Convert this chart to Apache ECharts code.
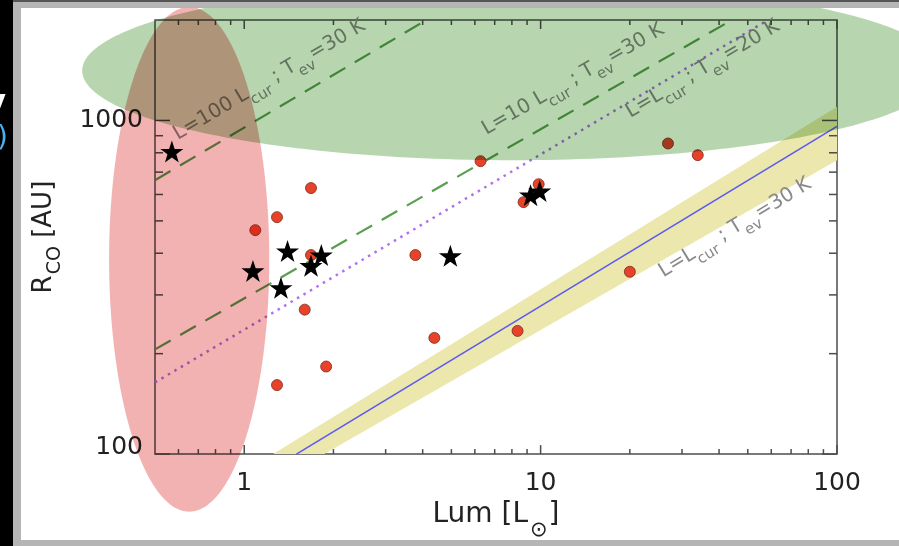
<!DOCTYPE html>
<html>
<head>
<meta charset="utf-8">
<script src="https://cdn.jsdelivr.net/npm/echarts@6/dist/echarts.min.js"></script>
<style>
  html, body { margin: 0; padding: 0; background: #fff; }
  #chart { width: 899px; height: 546px; }
</style>
</head>
<body>
<div id="chart"></div>
<script>
// Axis ranges: luminosity [L_sun] and CO snow-line radius [AU]
const lumRange = [0.5, 100];
const rcoRange = [100, 2000];
const lumLabels = [1, 10, 100];
const rcoLabels = [100, 1000];
const lumMajorTicks = [1, 10, 100];
const lumMinorTicks = [0.6, 0.7, 0.8, 0.9, 2, 3, 4, 5, 6, 7, 8, 9, 20, 30, 40, 50, 60, 70, 80, 90];
const rcoMajorTicks = [100, 1000];
const rcoMinorTicks = [200, 300, 400, 500, 600, 700, 800, 900];

// Sources drawn as stars
const starLum = [0.57, 1.07, 1.40, 1.33, 1.68, 1.82, 4.96, 9.25, 9.93];
const starRco = [807, 354, 406, 315, 367, 395, 393, 597, 614];

// Sources drawn as red circles
const dotLum = [1.09, 1.29, 1.68, 6.27, 9.85, 8.76, 1.68, 3.78, 1.60, 4.38, 8.36, 1.89, 1.29, 26.9, 33.9, 20.0];
const dotRco = [469, 513, 627, 755, 644, 569, 395, 395, 271, 223, 234, 183, 161, 853, 787, 352];

// Model relations R_CO(L), end points on the frame
const rel100x30K = [[0.5, 662], [4.12, 2000]];
const rel10x30K = [[0.5, 206], [44.2, 2000]];
const rel1x20K = [[0.5, 164], [58.5, 2000]];
const rel1x30K = [[1.5, 100], [100, 960]];
// Spread around the L = Lcur, Tev = 30 K relation
const band30KUpper = [[1.25, 100], [100, 1100]];
const band30KLower = [[1.86, 100], [100, 760]];

// Relation labels: baseline start point (L, R), text
const labelAnchors = [[0.603, 859], [6.62, 889], [20.3, 1000], [26.2, 333]];
const labelTexts = [
  '{m|L=100 L}{s|cur}{m| ; T}{s|ev}{m|=30 K}',
  '{m|L=10 L}{s|cur}{m| ; T}{s|ev}{m|=30 K}',
  '{m|L=L}{s|cur}{m| ; T}{s|ev}{m|=20 K}',
  '{m|L=L}{s|cur}{m| ; T}{s|ev}{m|=30 K}'
];
const labelRelations = [rel100x30K, rel10x30K, rel1x20K, rel1x30K];

// Highlighted regions: [Lmin, Lmax, Rmin, Rmax] bounding boxes of the ellipses
const regionBoxes = [
  [0.35, 1.215, 67.2, 2188],
  [0.284, 228, 760, 2618]
];
const regionColors = ['#f3b2b2', '#b7d6af'];

const FONT = 'DejaVu Sans';
const STAR = 'path://M50,0 L61.8,35.1 L98.9,35.1 L68.8,57.4 L79.4,91.6 L50,70.5 L20.6,91.6 L31.2,57.4 L1.1,35.1 L38.2,35.1 Z';

function isListed(list, v) {
  return list.find(t => Math.abs(t - v) / t < 1e-6);
}

function tickSeries(values, axis, len) {
  const data = values.map(v => axis === 'x' ? [v, rcoRange[0]] : [lumRange[0], v]);
  return {
    type: 'custom', coordinateSystem: 'cartesian2d', silent: true, clip: false, z: 4,
    data: data,
    renderItem: function (params, api) {
      const st = { stroke: '#4d4d4d', lineWidth: 1.5 };
      if (axis === 'x') {
        const v = api.value(0);
        const b = api.coord([v, rcoRange[0]]);
        const t = api.coord([v, rcoRange[1]]);
        return { type: 'group', children: [
          { type: 'line', shape: { x1: b[0], y1: b[1], x2: b[0], y2: b[1] - len }, style: st },
          { type: 'line', shape: { x1: t[0], y1: t[1], x2: t[0], y2: t[1] + len }, style: st }
        ] };
      }
      const v = api.value(1);
      const l = api.coord([lumRange[0], v]);
      const r = api.coord([lumRange[1], v]);
      return { type: 'group', children: [
        { type: 'line', shape: { x1: l[0], y1: l[1], x2: l[0] + len, y2: l[1] }, style: st },
        { type: 'line', shape: { x1: r[0], y1: r[1], x2: r[0] - len, y2: r[1] }, style: st }
      ] };
    }
  };
}

function relationSeries(points, color, dash, width) {
  return {
    type: 'line', data: points, symbol: 'none', silent: true, z: 2,
    lineStyle: { color: color, width: width, type: dash }
  };
}

const chart = echarts.init(document.getElementById('chart'), null, { renderer: 'canvas' });

const option = {
  animation: false,
  backgroundColor: '#ffffff',
  grid: { left: 155, top: 20, right: 62, bottom: 91, show: true, borderColor: '#4d4d4d', borderWidth: 1.5, backgroundColor: 'transparent' },
  xAxis: {
    type: 'log', logBase: 10, min: lumRange[0], max: lumRange[1],
    name: '{m|Lum [L}{s|⊙}{m|]}', nameLocation: 'middle', nameGap: 38,
    nameTextStyle: {
      rich: {
        m: { fontFamily: FONT, fontSize: 28, color: '#222', lineHeight: 32, verticalAlign: 'top' },
        s: { fontFamily: FONT, fontSize: 21, color: '#222', lineHeight: 22, verticalAlign: 'top', padding: [19, 1, 0, 2] }
      }
    },
    axisLine: { show: false }, axisTick: { show: false }, splitLine: { show: false },
    axisLabel: {
      fontFamily: FONT, fontSize: 25, color: '#222', margin: 17,
      formatter: function (v) { const t = isListed(lumLabels, v); return t ? String(t) : ''; }
    }
  },
  yAxis: {
    type: 'log', logBase: 10, min: rcoRange[0], max: rcoRange[1],
    name: '{m|R}{s|CO}{m| [AU]}', nameLocation: 'middle', nameGap: 94, nameRotate: 90,
    nameTextStyle: {
      rich: {
        m: { fontFamily: FONT, fontSize: 26, color: '#222', lineHeight: 30, verticalAlign: 'top' },
        s: { fontFamily: FONT, fontSize: 19, color: '#222', lineHeight: 20, verticalAlign: 'top', padding: [15, 0, 0, 1] }
      }
    },
    axisLine: { show: false }, axisTick: { show: false }, splitLine: { show: false },
    axisLabel: {
      fontFamily: FONT, fontSize: 25, color: '#222', margin: 12, lineHeight: 14,
      verticalAlignMinLabel: 'bottom',
      formatter: function (v) { const t = isListed(rcoLabels, v); return t ? String(t) : ''; }
    }
  },
  graphic: [
    { type: 'rect', z: 100, shape: { x: 0, y: 0, width: 13, height: 546 }, style: { fill: '#000' } },
    { type: 'rect', z: 100, shape: { x: 13, y: 0, width: 8, height: 546 }, style: { fill: '#b5b5b5' } },
    { type: 'rect', z: 100, shape: { x: 13, y: 0, width: 886, height: 8 }, style: { fill: '#b5b5b5' } },
    { type: 'rect', z: 100, shape: { x: 13, y: 0, width: 886, height: 2 }, style: { fill: '#555' } },
    { type: 'rect', z: 100, shape: { x: 13, y: 540, width: 886, height: 6 }, style: { fill: '#b5b5b5' } },
    { type: 'text', z: 101, x: 6, y: 88, style: { text: 'y', fill: '#fff', font: 'bold 30px "DejaVu Sans"', align: 'right', verticalAlign: 'alphabetic' } },
    { type: 'text', z: 101, x: 8, y: 139, style: { text: ')', fill: '#4ab0f0', font: '28px "DejaVu Sans"', align: 'right', verticalAlign: 'middle' } }
  ],
  series: [
    // yellow spread band
    {
      type: 'custom', coordinateSystem: 'cartesian2d', silent: true, z: 1, clip: true,
      data: band30KUpper.concat(band30KLower.slice().reverse()),
      renderItem: function (params, api) {
        if (params.dataIndex !== 0) return null;
        const poly = band30KUpper.concat(band30KLower.slice().reverse());
        return { type: 'polygon', shape: { points: poly.map(p => api.coord(p)) }, style: { fill: '#ece7ad' } };
      }
    },
    relationSeries(rel1x30K, '#5b5bf0', 'solid', 1.6),
    relationSeries(rel100x30K, '#5a9e4f', [18, 11], 2.2),
    relationSeries(rel10x30K, '#5a9e4f', [18, 11], 2.2),
    relationSeries(rel1x20K, '#b070f0', [2.5, 5], 2.5),
    // relation labels, baseline starting at the anchor and running parallel to the relation
    {
      type: 'custom', coordinateSystem: 'cartesian2d', silent: true, z: 2, clip: false,
      data: labelAnchors,
      renderItem: function (params, api) {
        const i = params.dataIndex;
        const p = api.coord([api.value(0), api.value(1)]);
        const rel = labelRelations[i];
        const a = api.coord(rel[0]);
        const b = api.coord(rel[1]);
        const ang = Math.atan2(a[1] - b[1], b[0] - a[0]);
        return {
          type: 'text', x: p[0], y: p[1], rotation: ang,
          style: {
            text: labelTexts[i], x: 0, y: -18, align: 'left', verticalAlign: 'top',
            rich: {
              m: { fontFamily: FONT, fontSize: 20, fill: '#8a8a8a', lineHeight: 24, verticalAlign: 'top' },
              s: { fontFamily: FONT, fontSize: 15, fill: '#8a8a8a', lineHeight: 16, verticalAlign: 'top', padding: [12, 0, 0, 0] }
            }
          }
        };
      }
    },
    tickSeries(lumMinorTicks, 'x', 5),
    tickSeries(lumMajorTicks, 'x', 9),
    tickSeries(rcoMinorTicks, 'y', 8),
    tickSeries(rcoMajorTicks, 'y', 15),
    {
      type: 'scatter', z: 3, silent: true,
      data: dotLum.map((l, i) => [l, dotRco[i]]),
      symbol: 'circle', symbolSize: 11,
      itemStyle: { color: '#e6432a', borderColor: '#7d2a1c', borderWidth: 0.8, opacity: 1 }
    },
    {
      type: 'scatter', z: 3, silent: true,
      data: starLum.map((l, i) => [l, starRco[i]]),
      symbol: STAR, symbolSize: [23, 22],
      itemStyle: { color: '#000', opacity: 1 }
    },
    // highlighted regions, multiplied over everything beneath
    {
      type: 'custom', coordinateSystem: 'cartesian2d', silent: true, z: 5, clip: false,
      blendMode: 'multiply',
      encode: { x: [0, 1], y: [2, 3] },
      data: regionBoxes,
      renderItem: function (params, api) {
        const p0 = api.coord([api.value(0), api.value(2)]);
        const p1 = api.coord([api.value(1), api.value(3)]);
        const cx = (p0[0] + p1[0]) / 2, cy = (p0[1] + p1[1]) / 2;
        const rx = Math.abs(p1[0] - p0[0]) / 2, ry = Math.abs(p1[1] - p0[1]) / 2;
        const pts = [];
        for (let k = 0; k < 240; k++) {
          const t = k / 240 * Math.PI * 2;
          pts.push([cx + rx * Math.cos(t), cy + ry * Math.sin(t)]);
        }
        return { type: 'polygon', shape: { points: pts }, style: { fill: regionColors[params.dataIndex], blend: 'multiply' } };
      }
    }
  ]
};

chart.setOption(option);
</script>
</body>
</html>
